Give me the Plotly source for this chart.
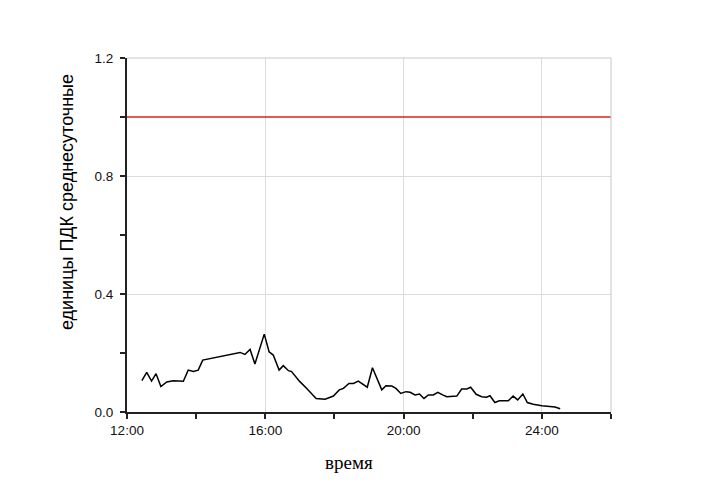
import plotly.graph_objects as go

# time in hours (24+ = after midnight)
hours = [12.43, 12.57, 12.71, 12.84, 12.98, 13.15, 13.34, 13.63, 13.77, 13.92, 14.06, 14.19,
         15.27, 15.41, 15.56, 15.70, 15.97, 16.11, 16.23, 16.40, 16.52, 16.67, 16.76,
         17.00, 17.20, 17.47, 17.73, 17.97, 18.14, 18.26, 18.42, 18.55, 18.69, 18.95,
         19.10, 19.22, 19.37, 19.49, 19.66, 19.78, 19.92, 20.07, 20.19, 20.33, 20.46,
         20.59, 20.72, 20.86, 20.99, 21.13, 21.25, 21.54, 21.68, 21.83, 21.94, 22.10,
         22.26, 22.40, 22.50, 22.64, 22.77, 23.03, 23.17, 23.30, 23.45, 23.58, 23.75,
         24.00, 24.24, 24.38, 24.53]
values = [0.106, 0.134, 0.105, 0.130, 0.086, 0.102, 0.106, 0.104, 0.142, 0.137, 0.142, 0.176,
          0.202, 0.195, 0.212, 0.163, 0.264, 0.204, 0.193, 0.142, 0.157, 0.140, 0.137,
          0.103, 0.080, 0.046, 0.043, 0.054, 0.075, 0.080, 0.097, 0.097, 0.105, 0.084,
          0.150, 0.118, 0.075, 0.089, 0.088, 0.080, 0.063, 0.069, 0.067, 0.058, 0.061,
          0.046, 0.058, 0.058, 0.067, 0.058, 0.052, 0.054, 0.078, 0.078, 0.084, 0.060,
          0.052, 0.050, 0.055, 0.032, 0.038, 0.038, 0.054, 0.041, 0.061, 0.032, 0.026,
          0.021, 0.018, 0.017, 0.011]
pdk_level = 1.0
x_range = [12, 26]
x_tick_vals = [12, 16, 20, 24]
x_tick_text = ["12:00", "16:00", "20:00", "24:00"]
y_tick_vals = [0.0, 0.4, 0.8, 1.2]
y_tick_text = ["0.0", "0.4", "0.8", "1.2"]

# page body has an 8px default margin; compensate
OFF = 8
L, R, T, B = 127 - OFF, 98 + OFF, 58 - OFF, 83 + OFF
PW, PH = 709 - L - R, 495 - T - B

fig = go.Figure()
fig.add_trace(go.Scatter(x=x_range, y=[pdk_level, pdk_level], mode="lines",
                         line=dict(color="#e0201a", width=1.5), hoverinfo="skip"))
fig.add_trace(go.Scatter(x=hours, y=values, mode="lines",
                         line=dict(color="black", width=1.5)))

fig.update_layout(
    width=709, height=495,
    margin=dict(l=L, r=R, t=T, b=B),
    paper_bgcolor="white", plot_bgcolor="white",
    showlegend=False,
    font=dict(family="Arial, Liberation Sans", size=13.5, color="#111"),
    xaxis=dict(range=x_range, tickvals=x_tick_vals, ticktext=x_tick_text,
               showgrid=True, gridcolor="#dcdcdc", gridwidth=1,
               showline=True, linecolor="#222", linewidth=2,
               ticks="outside", ticklen=5, tickcolor="#222", tickwidth=1.5, zeroline=False,
               minor=dict(tickvals=[14, 18, 22, 26], ticks="outside", ticklen=5,
                          tickcolor="#222", tickwidth=1.5, showgrid=False),
               tickfont=dict(size=13.5)),
    yaxis=dict(range=[0, 1.2], tickvals=y_tick_vals, ticktext=y_tick_text,
               showgrid=True, gridcolor="#dcdcdc", gridwidth=1,
               showline=True, linecolor="#222", linewidth=2,
               ticks="outside", ticklen=5, tickcolor="#222", tickwidth=1.5, zeroline=False,
               ticklabelstandoff=4,
               minor=dict(tickvals=[0.2, 0.6, 1.0], ticks="outside", ticklen=5,
                          tickcolor="#222", tickwidth=1.5, showgrid=False),
               tickfont=dict(size=13.5)),
)
# light frame on top and right
fig.add_shape(type="line", xref="paper", yref="paper", x0=0, x1=1, y0=1, y1=1,
              line=dict(color="#c8c8c8", width=1))
fig.add_shape(type="line", xref="paper", yref="paper", x0=1, x1=1, y0=0, y1=1,
              line=dict(color="#c8c8c8", width=1))

fig.add_annotation(text="время", xref="paper", yref="paper", x=(349 - 127) / PW,
                   y=-(462 - 412) / PH, showarrow=False, yanchor="middle",
                   font=dict(family="Times New Roman, Liberation Serif", size=19, color="black"))
fig.add_annotation(text="единицы ПДК среднесуточные", xref="paper", yref="paper",
                   x=-(127 - 67) / PW, y=(412 - 202) / PH, showarrow=False,
                   textangle=-90, xanchor="center", yanchor="middle",
                   font=dict(family="Arial, Liberation Sans", size=18, color="black"))

fig.write_html("out.html")
